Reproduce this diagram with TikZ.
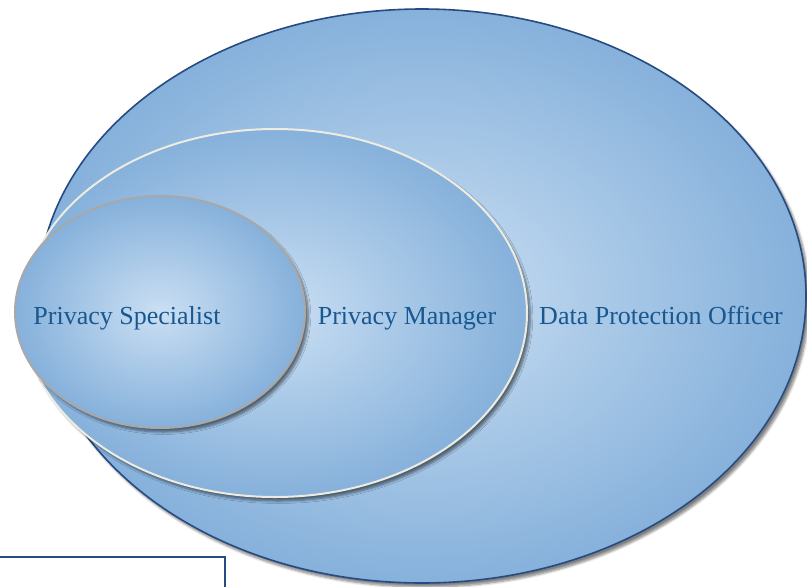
\documentclass[tikz,border=0pt]{standalone}
\usepackage{fontspec}
\setmainfont{Liberation Serif}
\usetikzlibrary{shapes.geometric,shadows.blur}
\definecolor{dpoline}{RGB}{38,74,130}
\definecolor{ringin}{RGB}{202,223,243}
\definecolor{ringout}{RGB}{134,177,219}
\definecolor{mgrline}{RGB}{238,236,225}
\definecolor{specline}{RGB}{168,168,168}
\definecolor{labelblue}{RGB}{24,88,145}
\tikzset{
  ring/.style={ellipse, inner sep=0pt, shading=radial, inner color=ringin, outer color=ringout,
    blur shadow={shadow xshift=2.5pt, shadow yshift=-3pt, shadow blur steps=6, shadow opacity=50}},
  lbl/.style={text=labelblue, anchor=base, font=\fontsize{19.5}{23}\selectfont}
}

\begin{document}
\begin{tikzpicture}[x=0.75pt,y=-0.75pt]
\clip (0,0) rectangle (807,586);
\node [ring, draw=dpoline, line width=1.2pt, minimum width=576pt, minimum height=430.5pt] (dpo) at (422,296) {};
\node [ring, draw=mgrline, line width=1.5pt, minimum width=378pt, minimum height=276pt] (mgr) at (275,313) {};
\node [ring, draw=specline, line width=1.5pt, minimum width=217.5pt, minimum height=174pt] (spec) at (160,312) {};

\node [lbl] (dpotext) at (661,324) {Data Protection Officer};
\node [lbl] (mgrtext) at (407,324) {Privacy Manager};
\node [lbl] (spectext) at (127,324) {Privacy Specialist};

\draw [dpoline, line width=1.1pt] (-5,557) rectangle (225,600);
\end{tikzpicture}
\end{document}
